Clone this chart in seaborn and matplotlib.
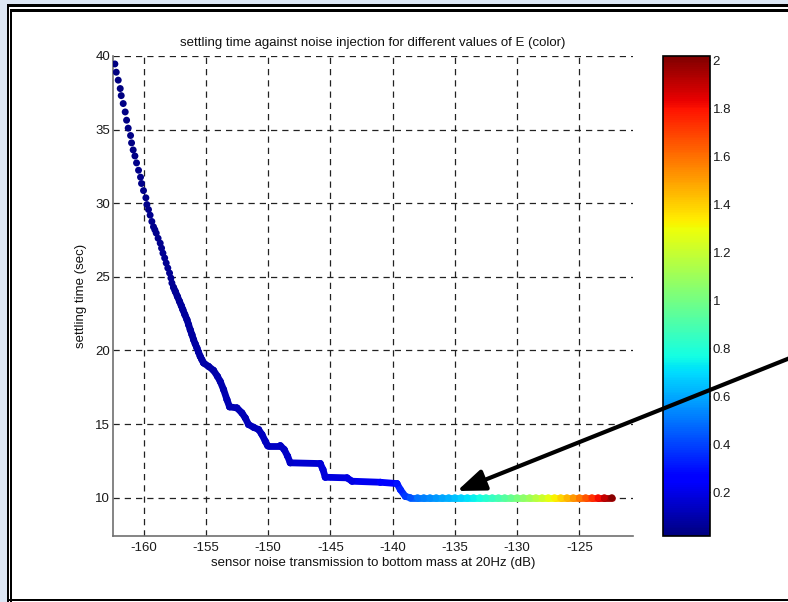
import numpy as np
import pandas as pd
import matplotlib
matplotlib.use("Agg")
import matplotlib.pyplot as plt
import seaborn as sns
from matplotlib.collections import LineCollection
from matplotlib.patches import Rectangle, FancyArrowPatch
from matplotlib.colors import Normalize
from matplotlib.cm import ScalarMappable

# ---------------- data ----------------
noise_db = [
    -162.30, -162.19, -162.03, -161.87, -161.79, -161.63, -161.47, -161.36, -161.23, -161.04,
    -160.96, -160.83, -160.69, -160.56, -160.40, -160.24, -160.16, -160.00, -159.81, -159.73,
    -159.60, -159.47, -159.33, -159.20, -159.09, -158.98, -158.83, -158.66, -158.55, -158.44,
    -158.30, -158.18, -158.05, -157.91, -157.80, -157.72, -157.60, -157.45, -157.28, -157.11,
    -156.97, -156.84, -156.68, -156.51, -156.38, -156.25, -156.11, -155.98, -155.85, -155.71,
    -155.58, -155.45, -155.31, -155.18, -154.78, -154.38, -154.06, -153.84, -153.57, -153.30,
    -153.09, -152.50, -152.10, -151.83, -151.57, -151.16, -150.76, -150.49, -150.22, -150.04,
    -149.02, -148.70, -148.43, -148.22, -145.81, -145.59, -145.41, -143.66, -143.26, -140.99,
    -139.65, -139.38, -138.98, -138.58,
    -138.0, -137.5, -137.0, -136.5, -136.0, -135.5, -135.0, -134.5, -134.0, -133.5,
    -133.0, -132.5, -132.0, -131.5, -131.0, -130.5, -130.0, -129.5, -129.0, -128.5,
    -128.0, -127.5, -127.0, -126.5, -126.0, -125.5, -125.0, -124.5, -124.0, -123.5,
    -123.0, -122.4,
]
settling_sec = [
    39.46, 38.90, 38.36, 37.79, 37.31, 36.77, 36.20, 35.64, 35.10, 34.60,
    34.10, 33.62, 33.21, 32.74, 32.24, 31.77, 31.34, 30.86, 30.37, 29.91,
    29.57, 29.19, 28.76, 28.40, 28.20, 27.97, 27.62, 27.29, 26.95, 26.61,
    26.28, 25.94, 25.60, 25.26, 24.92, 24.58, 24.30, 24.01, 23.67, 23.33,
    23.05, 22.77, 22.43, 22.09, 21.75, 21.41, 21.07, 20.73, 20.45, 20.17,
    19.88, 19.60, 19.37, 19.15, 18.92, 18.65, 18.24, 17.90, 17.34, 16.66,
    16.17, 16.10, 15.76, 15.42, 14.97, 14.78, 14.63, 14.29, 13.83, 13.54,
    13.54, 13.27, 12.82, 12.37, 12.32, 11.91, 11.39, 11.35, 11.12, 11.05,
    10.96, 10.55, 10.09, 10.00,
    10.0, 10.0, 10.0, 10.0, 10.0, 10.0, 10.0, 10.0, 10.0, 10.0,
    10.0, 10.0, 10.0, 10.0, 10.0, 10.0, 10.0, 10.0, 10.0, 10.0,
    10.0, 10.0, 10.0, 10.0, 10.0, 10.0, 10.0, 10.0, 10.0, 10.0,
    10.0, 10.0,
]
E_values = [
    0.020, 0.021, 0.022, 0.023, 0.024, 0.025, 0.026, 0.027, 0.028, 0.029,
    0.030, 0.031, 0.032, 0.033, 0.034, 0.035, 0.036, 0.037, 0.038, 0.039,
    0.040, 0.041, 0.042, 0.043, 0.044, 0.045, 0.046, 0.047, 0.048, 0.049,
    0.050, 0.051, 0.052, 0.053, 0.054, 0.055, 0.056, 0.058, 0.060, 0.062,
    0.064, 0.066, 0.068, 0.070, 0.072, 0.074, 0.076, 0.078, 0.080, 0.082,
    0.084, 0.085, 0.086, 0.088, 0.090, 0.093, 0.096, 0.099, 0.102, 0.105,
    0.108, 0.112, 0.115, 0.117, 0.119, 0.122, 0.125, 0.127, 0.129, 0.131,
    0.138, 0.141, 0.144, 0.147, 0.172, 0.175, 0.178, 0.192, 0.196, 0.240,
    0.300, 0.330, 0.380, 0.430,
    0.494, 0.517, 0.541, 0.565, 0.591, 0.618, 0.647, 0.676, 0.707, 0.740,
    0.774, 0.809, 0.846, 0.885, 0.926, 0.968, 1.012, 1.059, 1.107, 1.158,
    1.211, 1.267, 1.324, 1.385, 1.449, 1.515, 1.585, 1.657, 1.733, 1.812,
    1.895, 2.000,
]
x_ticks = [-160, -155, -150, -145, -140, -135, -130, -125]
y_ticks = [10, 15, 20, 25, 30, 35, 40]
cbar_ticks = [0.2, 0.4, 0.6, 0.8, 1.0, 1.2, 1.4, 1.6, 1.8, 2.0]
cbar_labels = ["0.2", "0.4", "0.6", "0.8", "1", "1.2", "1.4", "1.6", "1.8", "2"]
E_range = (0.017, 2.017)
dense_start = 36

title_text = "settling time against noise injection for different values of E (color)"
x_label = "sensor noise transmission to bottom mass at 20Hz (dB)"
y_label = "settling time (sec)"

# ---------------- style ----------------
sns.set_style("white")
plt.rcParams["font.family"] = ["Liberation Sans", "DejaVu Sans"]
plt.rcParams["font.size"] = 9.5
FS = 9.5

W, H = 788, 602
fig = plt.figure(figsize=(W / 100, H / 100), dpi=100)
fig.patch.set_facecolor("white")


def fx(px):
    return px / W


def fy(py):
    return 1 - py / H


ax = fig.add_axes([fx(113), fy(536), fx(633) - fx(113), fy(56) - fy(536)])
cax = fig.add_axes([fx(663), fy(536), fx(710) - fx(663), fy(56) - fy(536)])

df = pd.DataFrame({"x": noise_db, "y": settling_sec, "E": E_values})
norm = Normalize(*E_range)
cmap = matplotlib.colormaps["jet"]

# continuous band for the densely sampled part
xs = np.array(noise_db[dense_start:])
ys = np.array(settling_sec[dense_start:])
es = np.array(E_values[dense_start:])
pts = np.column_stack([xs, ys]).reshape(-1, 1, 2)
segs = np.concatenate([pts[:-1], pts[1:]], axis=1)
lc = LineCollection(segs, colors=cmap(norm((es[:-1] + es[1:]) / 2)),
                    linewidths=4.9, capstyle="round", joinstyle="round", zorder=2.5)
ax.add_collection(lc)

sns.scatterplot(data=df, x="x", y="y", hue="E", palette=cmap, hue_norm=norm,
                s=25, linewidth=0, legend=False, ax=ax, zorder=3)

ax.set_xlim(-162.45, -120.7)
ax.set_ylim(7.4, 40)
ax.set_xticks(x_ticks)
ax.set_yticks(y_ticks)
ax.set_xticklabels([str(v) for v in x_ticks])
ax.set_yticklabels([str(v) for v in y_ticks])
ax.grid(True, linestyle=(0, (5, 4)), color="#222222", linewidth=0.9)
ax.set_axisbelow(True)
for s in ["top", "right"]:
    ax.spines[s].set_visible(False)
for s in ["left", "bottom"]:
    ax.spines[s].set_color("#707070")
    ax.spines[s].set_linewidth(1.2)
ax.tick_params(axis="both", direction="in", length=4, width=0.8, color="black",
               labelsize=FS, labelcolor="#1a1a1a")
ax.tick_params(axis="x", pad=4)
ax.tick_params(axis="y", pad=2)
ax.set_title(title_text, fontsize=FS, pad=7, color="#111111")
ax.set_xlabel(x_label, fontsize=FS, labelpad=2.5, color="#111111")
ax.set_ylabel(y_label, fontsize=FS, labelpad=6, color="#111111")

cb = fig.colorbar(ScalarMappable(norm=norm, cmap=cmap), cax=cax)
cb.set_ticks(cbar_ticks)
cb.set_ticklabels(cbar_labels)
cb.outline.set_linewidth(1.2)
cb.outline.set_edgecolor("black")
cax.tick_params(direction="in", length=4, width=0.8, color="black", left=True, right=True,
                labelsize=FS, labelcolor="#1a1a1a", pad=2)

# ---------------- window frame ----------------
lb = "#dce6f4"
fig.add_artist(Rectangle((0, 0), fx(7), 1, transform=fig.transFigure, color=lb, lw=0, zorder=0))
fig.add_artist(Rectangle((0, fy(4)), 1, fy(0) - fy(4), transform=fig.transFigure, color=lb, lw=0, zorder=0))
for (x0, y0, x1, y1) in [(7, 4, W, 6.5), (10, 9, W, 12), (7, 4, 9, H), (10, 9, 12, H), (7, 599, W, 601)]:
    fig.add_artist(Rectangle((fx(x0), fy(y1)), fx(x1) - fx(x0), fy(y0) - fy(y1),
                             transform=fig.transFigure, color="black", lw=0, zorder=5))

# ---------------- arrow ----------------
arrow = FancyArrowPatch(posA=(fx(810), fy(350)), posB=(fx(457), fy(491)),
                        transform=fig.transFigure,
                        arrowstyle="-|>,head_length=17,head_width=6.5",
                        mutation_scale=1, color="black", lw=3.0, shrinkA=0, shrinkB=0,
                        zorder=6, clip_on=False)
fig.add_artist(arrow)

fig.savefig("out.png", dpi=100)
